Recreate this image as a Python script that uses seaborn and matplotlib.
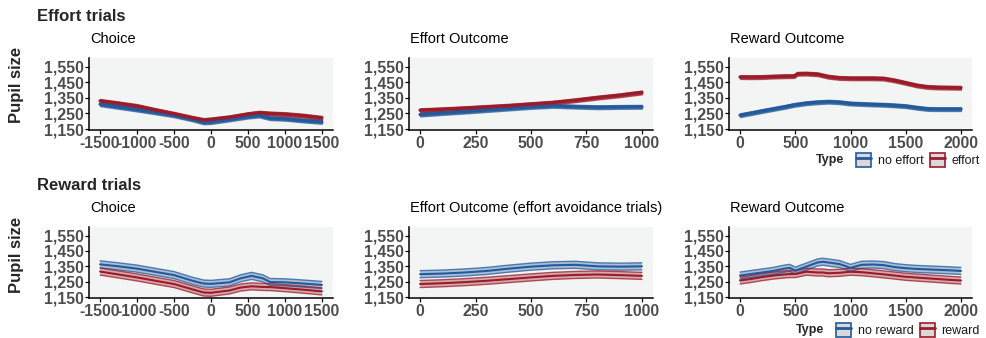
import numpy as np
import pandas as pd
import matplotlib
matplotlib.use("Agg")
import matplotlib.pyplot as plt
import seaborn as sns
from matplotlib.patches import Patch
from matplotlib.lines import Line2D
from matplotlib.legend_handler import HandlerTuple

# ---------------- data ----------------
choice_x = [-1500, -1250, -1000, -750, -500, -250, -100, 0, 250, 500, 650, 800, 1000, 1250, 1500]
eff_choice_effort = [1331, 1315, 1298, 1272, 1248, 1222, 1208, 1212, 1226, 1246, 1255, 1250, 1246, 1236, 1222]
eff_choice_noeffort = [1309, 1292, 1275, 1257, 1238, 1212, 1193, 1195, 1212, 1230, 1237, 1220, 1216, 1205, 1196]

effout_x = [0, 100, 200, 300, 400, 500, 600, 700, 800, 900, 1000]
eff_out_effort = [1271, 1277, 1284, 1292, 1300, 1310, 1320, 1335, 1352, 1367, 1385]
eff_out_noeffort = [1243, 1253, 1262, 1272, 1282, 1292, 1299, 1294, 1290, 1292, 1293]

rewout_x = [0, 100, 200, 300, 400, 490, 520, 600, 700, 800, 900, 1000, 1100, 1200, 1300,
            1400, 1500, 1600, 1700, 1800, 1900, 2000]
eff_rew_effort = [1484, 1483, 1484, 1487, 1489, 1490, 1505, 1506, 1502, 1486, 1478, 1476, 1476,
                  1476, 1474, 1462, 1446, 1430, 1420, 1417, 1416, 1415]
eff_rew_noeffort = [1239, 1252, 1266, 1279, 1292, 1305, 1308, 1316, 1322, 1326, 1322, 1314, 1311,
                    1308, 1306, 1302, 1297, 1287, 1279, 1278, 1278, 1278]

rchoice_x = [-1500, -1250, -1000, -750, -500, -250, -100, 0, 250, 400, 550, 700, 800, 1000, 1250, 1500]
rew_choice_reward = [1316, 1297, 1278, 1256, 1235, 1200, 1180, 1178, 1193, 1212, 1220, 1216, 1215,
                     1208, 1198, 1187]
rew_choice_noreward = [1363, 1350, 1335, 1314, 1293, 1256, 1238, 1236, 1246, 1272, 1288, 1272, 1248,
                       1246, 1238, 1229]

reff_x = [0, 100, 200, 300, 400, 500, 600, 700, 800, 900, 1000]
rew_eff_reward = [1235, 1240, 1247, 1256, 1267, 1278, 1288, 1294, 1297, 1293, 1288]
rew_eff_noreward = [1299, 1303, 1310, 1320, 1335, 1348, 1357, 1360, 1350, 1348, 1350]

rrew_x = [0, 100, 200, 300, 400, 450, 500, 600, 700, 750, 800, 900, 1000, 1100, 1200, 1300,
          1400, 1500, 1600, 1700, 1800, 1900, 2000]
rew_rew_reward = [1258, 1268, 1280, 1290, 1297, 1300, 1300, 1315, 1310, 1310, 1305, 1308, 1315,
                  1312, 1305, 1298, 1290, 1282, 1277, 1272, 1267, 1262, 1258]
rew_rew_noreward = [1290, 1300, 1310, 1320, 1335, 1340, 1322, 1348, 1375, 1380, 1375, 1365, 1340,
                    1360, 1362, 1358, 1345, 1338, 1333, 1330, 1327, 1324, 1320]

se_effort_row = 12
se_reward_row = 23

y_ticks = [1150, 1250, 1350, 1450, 1550]
choice_ticks = [-1500, -1000, -500, 0, 500, 1000, 1500]
effout_ticks = [0, 250, 500, 750, 1000]
rewout_ticks = [0, 500, 1000, 1500, 2000]

# ---------------- style ----------------
sns.set_style("ticks")
plt.rcParams["font.family"] = ["Liberation Sans", "DejaVu Sans"]
plt.rcParams["axes.unicode_minus"] = False

BLUE = "#245A9C"
RED = "#9C1B2A"
PANEL_BG = "#F3F5F4"
TICK_COL = "#4D4D4D"

W, H = 986, 338
fig = plt.figure(figsize=(W / 100, H / 100), dpi=100)


def px_axes(left, top, right, bottom):
    return fig.add_axes([left / W, (H - bottom) / H, (right - left) / W, (bottom - top) / H])


cols = [(89, 333), (409, 653), (729, 972)]
rows = [(58, 130), (227, 298)]

panels = [
    (0, 0, choice_x, eff_choice_noeffort, eff_choice_effort, ("no effort", "effort"), "Choice",
     (-1650, 1650), choice_ticks),
    (0, 1, effout_x, eff_out_noeffort, eff_out_effort, ("no effort", "effort"), "Effort Outcome",
     (-50, 1050), effout_ticks),
    (0, 2, rewout_x, eff_rew_noeffort, eff_rew_effort, ("no effort", "effort"), "Reward Outcome",
     (-100, 2100), rewout_ticks),
    (1, 0, rchoice_x, rew_choice_noreward, rew_choice_reward, ("no reward", "reward"), "Choice",
     (-1650, 1650), choice_ticks),
    (1, 1, reff_x, rew_eff_noreward, rew_eff_reward, ("no reward", "reward"),
     "Effort Outcome (effort avoidance trials)", (-50, 1050), effout_ticks),
    (1, 2, rrew_x, rew_rew_noreward, rew_rew_reward, ("no reward", "reward"), "Reward Outcome",
     (-100, 2100), rewout_ticks),
]

for r, c, xs, ya, yb, labs, title, xlim, xticks in panels:
    top, bottom = rows[r]
    left, right = cols[c]
    ax = px_axes(left, top, right, bottom)
    ax.set_facecolor(PANEL_BG)
    se = se_effort_row if r == 0 else se_reward_row
    df = pd.DataFrame({
        "time": list(xs) + list(xs),
        "pupil": list(ya) + list(yb),
        "Type": [labs[0]] * len(xs) + [labs[1]] * len(xs),
    })
    lw = 2.4 if r == 0 else 1.5
    for lab, col in zip(labs, (BLUE, RED)):
        sub = df[df["Type"] == lab]
        x = sub["time"].to_numpy()
        y = sub["pupil"].to_numpy()
        if r == 0:
            ax.fill_between(x, y - se, y + se, facecolor=col, alpha=0.7, edgecolor=col, lw=1.0)
        else:
            ax.fill_between(x, y - se, y + se, facecolor=col, alpha=0.35, edgecolor="none")
            ax.plot(x, y - se, color=col, lw=1.0, alpha=0.75)
            ax.plot(x, y + se, color=col, lw=1.0, alpha=0.75)
    sns.lineplot(data=df, x="time", y="pupil", hue="Type", palette={labs[0]: BLUE, labs[1]: RED},
                 ax=ax, legend=False, errorbar=None, lw=lw, estimator=None)
    ax.set_xlim(*xlim)
    ax.set_ylim(1144, 1606)
    ax.set_xticks(xticks)
    ax.set_xticklabels([str(t) for t in xticks])
    ax.set_yticks(y_ticks)
    ax.set_yticklabels([f"{t:,}" for t in y_ticks])
    ax.set_xlabel("")
    ax.set_ylabel("")
    for s in ("top", "right"):
        ax.spines[s].set_visible(False)
    for s in ("left", "bottom"):
        ax.spines[s].set_color("black")
        ax.spines[s].set_linewidth(1.1)
    ax.tick_params(axis="both", length=3, width=0.9, color="black", pad=1.5,
                   labelsize=11.3, labelcolor=TICK_COL)
    for lbl in ax.get_xticklabels() + ax.get_yticklabels():
        lbl.set_fontweight("bold")
    ax.yaxis.set_tick_params(pad=1)
    base = 42.7 if r == 0 else 211.7
    fig.text((left + 1) / W, (H - base) / H, title, fontsize=10.5, ha="left", va="baseline",
             color="black")

fig.text(37 / W, (H - 21) / H, "Effort trials", fontsize=12, fontweight="bold", va="baseline")
fig.text(37 / W, (H - 190.5) / H, "Reward trials", fontsize=12, fontweight="bold", va="baseline")

for cy in (85, 255):
    fig.text(17 / W, (H - cy) / H, "Pupil size", rotation=90, fontsize=12, fontweight="bold",
             ha="center", va="center")


def make_legend(labs, right_px, cy, type_x):
    handles = []
    for col in (BLUE, RED):
        handles.append((Patch(facecolor="#D9D9D9", edgecolor=col, lw=1.2),
                        Line2D([], [], color=col, lw=2)))
    leg = fig.legend(handles, list(labs), ncol=2, loc="center right",
                     bbox_to_anchor=(right_px / W, (H - cy) / H), frameon=False,
                     handler_map={tuple: HandlerTuple(ndivide=1, pad=0)},
                     fontsize=9, handlelength=1.2, handleheight=1.4, handletextpad=0.55,
                     columnspacing=0.5, borderpad=0, borderaxespad=0)
    for t in leg.get_texts():
        t.set_color("#1A1A1A")
    fig.text(type_x / W, (H - cy) / H, "Type", fontsize=9, fontweight="bold", ha="left",
             va="center")

make_legend(("no effort", "effort"), 980, 160, 816)
make_legend(("no reward", "reward"), 980, 330, 796)

fig.savefig("out.png", dpi=100)
